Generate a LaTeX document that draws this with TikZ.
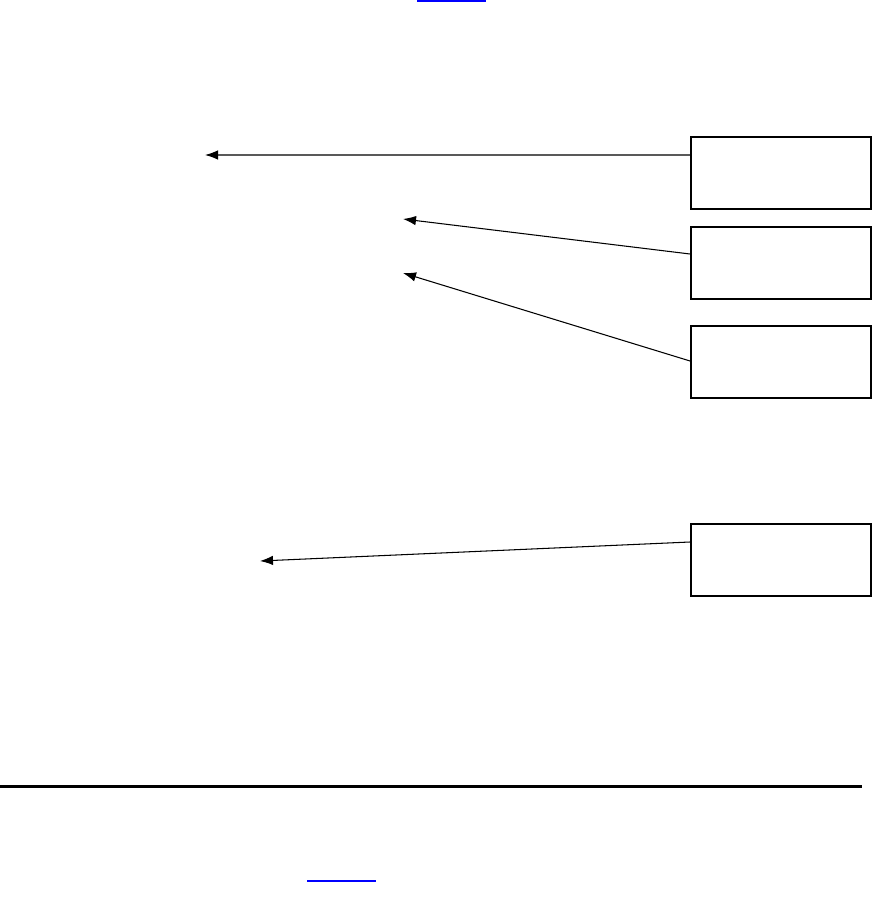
\documentclass[tikz,border=0pt]{standalone}
\usepackage{xcolor}
\usetikzlibrary{arrows.meta,positioning}
\definecolor{linkblue}{HTML}{0000FF}

\begin{document}
\begin{tikzpicture}[x=0.02cm,y=-0.02cm,>={Latex[length=0.26cm,width=0.19cm]},
  labelbox/.style={draw=black,line width=1.1pt,fill=white,minimum width=3.6cm,minimum height=1.44cm,inner sep=0pt},
  pointer/.style={->,line width=0.6pt}]
  \useasboundingbox (0,0) rectangle (873,912);
  \foreach \k/\y in {1/173,2/263,3/362,4/560}{
    \node[labelbox] (box\k) at (781,\y) {};
  }
  \coordinate (t1) at (205,155);
  \coordinate (t2) at (403,219);
  \coordinate (t3) at (403,273);
  \coordinate (t4) at (260,561);
  \draw[pointer] ([yshift=0.36cm]box1.west) -- (t1);
  \draw[pointer] ([yshift=0.18cm]box2.west) -- (t2);
  \draw[pointer] ([yshift=0.02cm]box3.west) -- (t3);
  \draw[pointer] ([yshift=0.36cm]box4.west) -- (t4);
  % rule and link underlines
  \draw[line width=1.7pt] (0,786) -- (862,786);
  \draw[linkblue,line width=1.1pt] (417,1) -- (486,1);
  \draw[linkblue,line width=1.1pt] (307,881) -- (376,881);
\end{tikzpicture}
\end{document}
